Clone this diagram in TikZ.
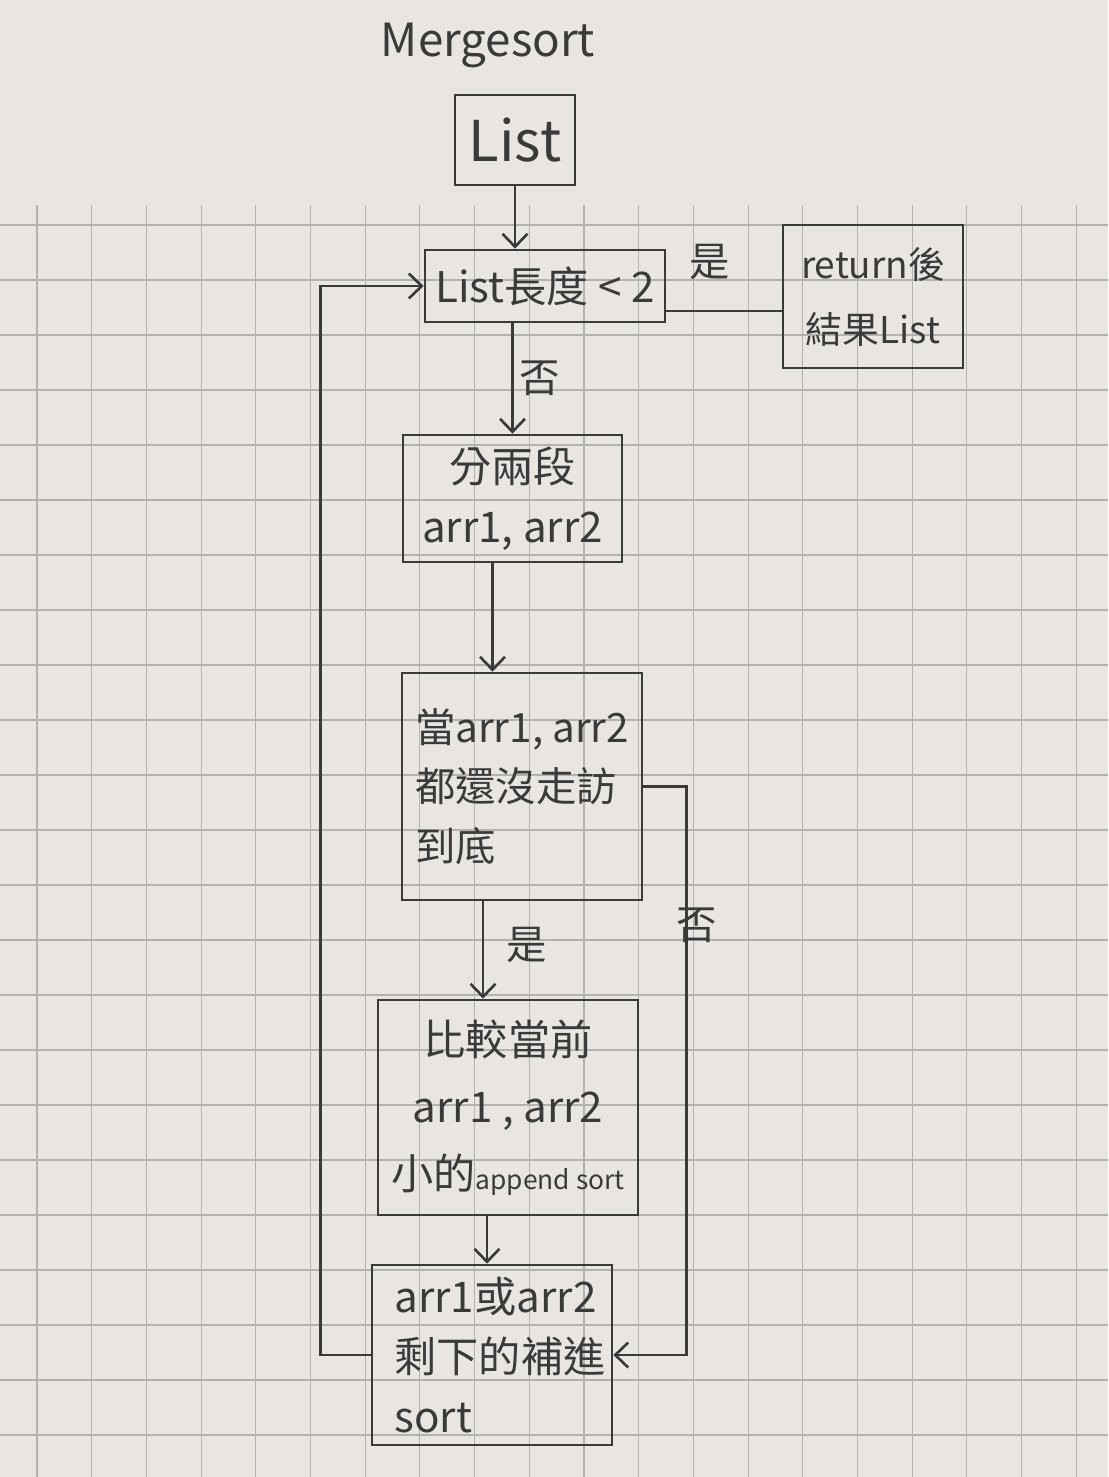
\documentclass[tikz,border=0pt]{standalone}
\usepackage{fontspec}
\newfontfamily\cjk{Noto Sans CJK TC}
\usetikzlibrary{arrows.meta}

\definecolor{paper}{RGB}{233,230,225}
\definecolor{pencil}{RGB}{58,58,58}
\definecolor{gridc}{RGB}{180,178,174}

\begin{document}
\begin{tikzpicture}[
        box/.style={rectangle, draw=pencil, line width=1.5pt, inner sep=0pt,
            text=pencil, font=\cjk\fontsize{24}{34}\selectfont},
        lbl/.style={text=pencil, inner sep=0pt, font=\cjk\fontsize{23}{23}\selectfont},
        arr/.style={-{Straight Barb[length=2.6mm,width=5mm,line width=1.5pt]},
            line width=1.5pt, draw=pencil},
        line/.style={line width=1.5pt, draw=pencil},
        gridline/.style={line width=0.6pt, draw=gridc}
      ]
      % paper and grid
      \fill[paper] (0,0) rectangle (22.16,-29.54);
      \useasboundingbox (0,0) rectangle (22.16,-29.54);
      \foreach \k in {0,...,19}
        \draw[gridline] (0.74+1.094*\k,-4.10) -- (0.74+1.094*\k,-29.54);
      \foreach \k in {0,...,22}
        \draw[gridline] (0,-4.50-1.10*\k) -- (22.16,-4.50-1.10*\k);

      % title and input
      \node[lbl, font=\cjk\fontsize{26}{26}\selectfont] at (9.76,-0.90) (title) {Mergesort};
      \node[box, minimum width=2.40cm, minimum height=1.80cm,
            font=\cjk\fontsize{32}{32}\selectfont] at (10.30,-2.80) (lst) {List};

      % length test and return
      \node[box, minimum width=4.80cm, minimum height=1.44cm] at (10.90,-5.72) (cond) {List長度 < 2};
      \node[box, minimum width=3.60cm, minimum height=2.86cm, align=center,
            font=\cjk\fontsize{21}{37}\selectfont] at (17.46,-5.93) (ret) {return後\\結果List};

      % split and merge loop
      \node[box, minimum width=4.38cm, minimum height=2.54cm, align=center] at (10.25,-9.97) (split) {分兩段\\arr1, arr2};
      \node[box, minimum width=4.80cm, minimum height=4.54cm, align=left,
            font=\cjk\fontsize{23}{34}\selectfont] at (10.44,-15.73) (loop) {當arr1, arr2\\都還沒走訪\\到底};
      \node[box, minimum width=5.20cm, minimum height=4.30cm, align=center,
            font=\cjk\fontsize{24}{38}\selectfont] at (10.16,-22.15) (cmp)
            {比較當前\\arr1 , arr2\\小的{\fontsize{15}{15}\selectfont append sort}};
      \node[box, minimum width=4.80cm, minimum height=3.60cm, text width=3.90cm, align=left] at (9.84,-27.10) (rest) {arr1或arr2\\剩下的補進\\sort};

      % labels
      \node[lbl] at (14.20,-5.24)  (yes1) {是};
      \node[lbl] at (10.80,-7.56)  (no1)  {否};
      \node[lbl] at (10.54,-18.90) (yes2) {是};
      \node[lbl] at (13.94,-18.50) (no2)  {否};

      % main arrows
      \draw[arr] (lst.south) -- (lst.south |- cond.north);
      \draw[arr] (split.north |- cond.south) -- (split.north);
      \draw[arr] ([xshift=-0.40cm]split.south) -- ([xshift=-0.40cm]split.south |- loop.north);
      \draw[arr] ([xshift=-0.78cm]loop.south) -- ([xshift=-0.78cm]loop.south |- cmp.north);
      \draw[arr] ([xshift=-0.42cm]cmp.south) -- ([xshift=-0.42cm]cmp.south |- rest.north);

      % yes: return
      \draw[line] ([yshift=-0.50cm]cond.east) -- ([yshift=-0.50cm]cond.east -| ret.west);

      % no: fill in the rest
      \draw[arr] (loop.east) -- ++(0.86,0) |- (rest.east);

      % back to the length test
      \draw[arr] (rest.west) -- ++(-1.00,0) |- (cond.west);
    \end{tikzpicture}
\end{document}
